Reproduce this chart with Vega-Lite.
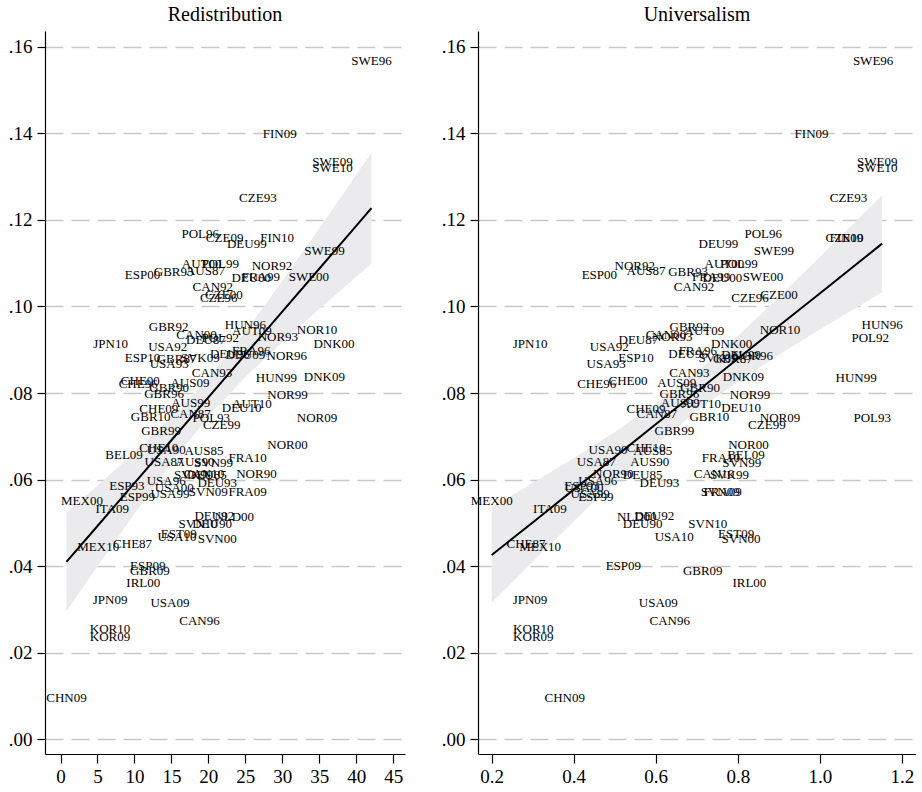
{
 "$schema": "https://vega.github.io/schema/vega-lite/v6.json",
 "padding": {"left": 8, "top": 5, "right": 0, "bottom": 0},
 "background": "white",
 "config": {
  "font": "Liberation Serif",
  "view": {"stroke": null},
  "axis": {"labelFont": "Liberation Serif", "labelFontSize": 19, "labelColor": "#000", "domainColor": "#000", "tickColor": "#000", "domainWidth": 1.2, "tickWidth": 1.2, "title": null, "grid": false, "labelOverlap": false, "labelFlush": false},
  "title": {"font": "Liberation Serif", "fontSize": 20, "fontWeight": "normal", "color": "#000", "offset": 6},
  "concat": {"spacing": 36}
 },
 "datasets": {
  "fitL": [
   {"x": 0.8, "fit": 0.0410, "lo": 0.0296, "hi": 0.0524},
   {"x": 5, "fit": 0.0493, "lo": 0.0400, "hi": 0.0586},
   {"x": 10, "fit": 0.0592, "lo": 0.0521, "hi": 0.0663},
   {"x": 15, "fit": 0.0691, "lo": 0.0639, "hi": 0.0743},
   {"x": 20, "fit": 0.0790, "lo": 0.0745, "hi": 0.0835},
   {"x": 25, "fit": 0.0889, "lo": 0.0837, "hi": 0.0941},
   {"x": 30, "fit": 0.0988, "lo": 0.0917, "hi": 0.1059},
   {"x": 35, "fit": 0.1087, "lo": 0.0994, "hi": 0.1180},
   {"x": 40, "fit": 0.1186, "lo": 0.1068, "hi": 0.1304},
   {"x": 42.06, "fit": 0.1227, "lo": 0.1099, "hi": 0.1355}
  ],
  "fitR": [
   {"x": 0.2, "fit": 0.0426, "lo": 0.0316, "hi": 0.0536},
   {"x": 0.3, "fit": 0.0501, "lo": 0.0410, "hi": 0.0592},
   {"x": 0.4, "fit": 0.0577, "lo": 0.0504, "hi": 0.0650},
   {"x": 0.5, "fit": 0.0652, "lo": 0.0594, "hi": 0.0710},
   {"x": 0.6, "fit": 0.0728, "lo": 0.0681, "hi": 0.0775},
   {"x": 0.7, "fit": 0.0803, "lo": 0.0758, "hi": 0.0848},
   {"x": 0.8, "fit": 0.0879, "lo": 0.0826, "hi": 0.0932},
   {"x": 0.9, "fit": 0.0955, "lo": 0.0888, "hi": 0.1021},
   {"x": 1.0, "fit": 0.1030, "lo": 0.0947, "hi": 0.1114},
   {"x": 1.152, "fit": 0.1145, "lo": 0.1033, "hi": 0.1257}
  ],
  "pts": [
   {"lab": "SWE96", "r": 42.06, "u": 1.13, "y": 0.1567},
   {"lab": "FIN09", "r": 29.65, "u": 0.98, "y": 0.1399},
   {"lab": "SWE09", "r": 36.8, "u": 1.14, "y": 0.1334},
   {"lab": "SWE10", "r": 36.8, "u": 1.14, "y": 0.1319},
   {"lab": "CZE93", "r": 26.7, "u": 1.07, "y": 0.1251},
   {"lab": "POL96", "r": 18.9, "u": 0.862, "y": 0.1168},
   {"lab": "CZE09", "r": 22.2, "u": 1.06, "y": 0.1157},
   {"lab": "DEU99", "r": 25.2, "u": 0.7527, "y": 0.1145},
   {"lab": "FIN10", "r": 29.3, "u": 1.065, "y": 0.1157},
   {"lab": "SWE99", "r": 35.7, "u": 0.888, "y": 0.1127},
   {"lab": "AUT00", "r": 19.1, "u": 0.7673, "y": 0.1097},
   {"lab": "POL99", "r": 21.6, "u": 0.8032, "y": 0.1097},
   {"lab": "NOR92", "r": 28.6, "u": 0.5488, "y": 0.1094},
   {"lab": "ESP00", "r": 11.1, "u": 0.4625, "y": 0.1072},
   {"lab": "GBR93", "r": 15.3, "u": 0.6788, "y": 0.1079},
   {"lab": "AUS87", "r": 19.6, "u": 0.5763, "y": 0.1082},
   {"lab": "DEU00", "r": 25.8, "u": 0.7624, "y": 0.1066},
   {"lab": "FRA99", "r": 27.1, "u": 0.735, "y": 0.1068},
   {"lab": "SWE00", "r": 33.6, "u": 0.8617, "y": 0.1068},
   {"lab": "CAN92", "r": 20.6, "u": 0.6934, "y": 0.1045},
   {"lab": "CZE00", "r": 22.1, "u": 0.9007, "y": 0.1026},
   {"lab": "CZE96", "r": 21.4, "u": 0.830, "y": 0.1020},
   {"lab": "GBR92", "r": 14.62, "u": 0.682, "y": 0.0952},
   {"lab": "HUN96", "r": 25.0, "u": 1.152, "y": 0.0957},
   {"lab": "AUT09", "r": 25.9, "u": 0.7186, "y": 0.0943},
   {"lab": "NOR10", "r": 34.7, "u": 0.903, "y": 0.0945},
   {"lab": "CAN00", "r": 18.4, "u": 0.625, "y": 0.0933},
   {"lab": "POL92", "r": 21.6, "u": 1.123, "y": 0.0928},
   {"lab": "DEU87", "r": 19.67, "u": 0.5576, "y": 0.0923},
   {"lab": "NOR93", "r": 29.4, "u": 0.64, "y": 0.0929},
   {"lab": "DNK00", "r": 37.0, "u": 0.785, "y": 0.0914},
   {"lab": "JPN10", "r": 6.77, "u": 0.2935, "y": 0.0914},
   {"lab": "USA92", "r": 14.49, "u": 0.4869, "y": 0.0906},
   {"lab": "ESP10", "r": 11.1, "u": 0.552, "y": 0.0881},
   {"lab": "GBR87", "r": 15.7, "u": 0.788, "y": 0.0879},
   {"lab": "SVK09", "r": 18.9, "u": 0.752, "y": 0.0882},
   {"lab": "DEU96", "r": 22.9, "u": 0.679, "y": 0.0891},
   {"lab": "FRA96", "r": 25.8, "u": 0.7025, "y": 0.0898},
   {"lab": "DEU09", "r": 25.0, "u": 0.808, "y": 0.0888},
   {"lab": "NOR96", "r": 30.6, "u": 0.8366, "y": 0.0886},
   {"lab": "USA93", "r": 14.7, "u": 0.479, "y": 0.0868},
   {"lab": "CAN93", "r": 20.5, "u": 0.682, "y": 0.0847},
   {"lab": "HUN99", "r": 29.2, "u": 1.0886, "y": 0.0834},
   {"lab": "DNK09", "r": 35.7, "u": 0.8137, "y": 0.0836},
   {"lab": "AUS09", "r": 17.5, "u": 0.651, "y": 0.0824},
   {"lab": "CHE00", "r": 10.8, "u": 0.5324, "y": 0.0827},
   {"lab": "CHE96", "r": 10.5, "u": 0.456, "y": 0.0820},
   {"lab": "GBR90", "r": 14.7, "u": 0.708, "y": 0.0812},
   {"lab": "GBR96", "r": 14.0, "u": 0.6576, "y": 0.0797},
   {"lab": "NOR99", "r": 30.7, "u": 0.830, "y": 0.0795},
   {"lab": "AUS99", "r": 17.6, "u": 0.66, "y": 0.0778},
   {"lab": "AUT10", "r": 25.9, "u": 0.7105, "y": 0.0775},
   {"lab": "CHE09", "r": 13.3, "u": 0.5763, "y": 0.0763},
   {"lab": "DEU10", "r": 24.5, "u": 0.808, "y": 0.0766},
   {"lab": "CAN87", "r": 17.6, "u": 0.6024, "y": 0.0751},
   {"lab": "GBR10", "r": 12.2, "u": 0.7307, "y": 0.0744},
   {"lab": "POL93", "r": 20.4, "u": 1.128, "y": 0.0743},
   {"lab": "NOR09", "r": 34.7, "u": 0.903, "y": 0.0742},
   {"lab": "CZE99", "r": 21.8, "u": 0.871, "y": 0.0726},
   {"lab": "GBR99", "r": 13.6, "u": 0.6454, "y": 0.0712},
   {"lab": "NOR00", "r": 30.7, "u": 0.826, "y": 0.0680},
   {"lab": "CHE10", "r": 13.3, "u": 0.5763, "y": 0.0674},
   {"lab": "USA90", "r": 14.3, "u": 0.4837, "y": 0.0668},
   {"lab": "AUS85", "r": 19.4, "u": 0.5927, "y": 0.0666},
   {"lab": "BEL09", "r": 8.6, "u": 0.820, "y": 0.0657},
   {"lab": "FRA10", "r": 25.3, "u": 0.759, "y": 0.0651},
   {"lab": "USA87", "r": 14.0, "u": 0.4552, "y": 0.0641},
   {"lab": "AUS90", "r": 18.2, "u": 0.5853, "y": 0.0640},
   {"lab": "SVN99", "r": 20.7, "u": 0.810, "y": 0.0639},
   {"lab": "NOR90", "r": 26.5, "u": 0.4966, "y": 0.0614},
   {"lab": "SVK99", "r": 18.0, "u": 0.7796, "y": 0.0610},
   {"lab": "CAN10", "r": 19.4, "u": 0.742, "y": 0.0612},
   {"lab": "DEU85", "r": 19.8, "u": 0.568, "y": 0.0610},
   {"lab": "DEU93", "r": 21.2, "u": 0.609, "y": 0.0592},
   {"lab": "USA96", "r": 14.3, "u": 0.4585, "y": 0.0597},
   {"lab": "ESP93", "r": 8.98, "u": 0.42, "y": 0.0585},
   {"lab": "USA00", "r": 15.4, "u": 0.425, "y": 0.0580},
   {"lab": "SVN09", "r": 20.0, "u": 0.757, "y": 0.0572},
   {"lab": "FRA09", "r": 25.3, "u": 0.763, "y": 0.0572},
   {"lab": "ESP99", "r": 10.4, "u": 0.454, "y": 0.0561},
   {"lab": "USA99", "r": 14.8, "u": 0.44, "y": 0.0566},
   {"lab": "MEX00", "r": 2.9, "u": 0.2, "y": 0.0551},
   {"lab": "ITA09", "r": 7.0, "u": 0.342, "y": 0.0532},
   {"lab": "DEU92", "r": 20.8, "u": 0.5966, "y": 0.0517},
   {"lab": "NLD00", "r": 23.5, "u": 0.5537, "y": 0.0514},
   {"lab": "SVN10", "r": 18.6, "u": 0.727, "y": 0.0498},
   {"lab": "DEU90", "r": 20.5, "u": 0.568, "y": 0.0497},
   {"lab": "EST09", "r": 16.0, "u": 0.796, "y": 0.0474},
   {"lab": "USA10", "r": 15.75, "u": 0.645, "y": 0.0468},
   {"lab": "SVN00", "r": 21.2, "u": 0.808, "y": 0.0463},
   {"lab": "CHE87", "r": 9.75, "u": 0.2837, "y": 0.0451},
   {"lab": "MEX10", "r": 5.1, "u": 0.318, "y": 0.0444},
   {"lab": "ESP09", "r": 11.8, "u": 0.521, "y": 0.0401},
   {"lab": "GBR09", "r": 12.1, "u": 0.7146, "y": 0.0388},
   {"lab": "IRL00", "r": 11.2, "u": 0.8283, "y": 0.0362},
   {"lab": "JPN09", "r": 6.7, "u": 0.2934, "y": 0.0321},
   {"lab": "USA09", "r": 14.8, "u": 0.6063, "y": 0.0316},
   {"lab": "CAN96", "r": 18.8, "u": 0.634, "y": 0.0273},
   {"lab": "KOR10", "r": 6.7, "u": 0.3015, "y": 0.0254},
   {"lab": "KOR09", "r": 6.7, "u": 0.3015, "y": 0.0237},
   {"lab": "CHN09", "r": 0.8, "u": 0.378, "y": 0.0096}
  ]
 },
 "hconcat": [
  {
   "width": 360, "height": 723,
   "title": "Redistribution",
   "encoding": {
    "x": {"type": "quantitative", "scale": {"domain": [-2.1, 46.6], "nice": false, "zero": false},
          "axis": {"values": [0, 5, 10, 15, 20, 25, 30, 35, 40, 45], "tickCount": 10, "format": "d", "tickSize": 9, "labelPadding": 4}},
    "y": {"type": "quantitative", "scale": {"domain": [-0.00335, 0.1636], "nice": false, "zero": false},
          "axis": {"values": [0, 0.02, 0.04, 0.06, 0.08, 0.1, 0.12, 0.14, 0.16], "labelExpr": "replace(format(datum.value, '.2f'), '0.', '.')", "grid": true, "gridColor": "#c8c8c8", "gridDash": [18, 8], "gridWidth": 1.6, "tickSize": 8, "labelPadding": 5}}
   },
   "layer": [
    {"data": {"name": "fitL"}, "mark": {"type": "area", "color": "#ebebed", "opacity": 1},
     "encoding": {"x": {"field": "x"}, "y": {"field": "lo"}, "y2": {"field": "hi"}}},
    {"data": {"name": "fitL"}, "mark": {"type": "line", "color": "#000", "strokeWidth": 2},
     "encoding": {"x": {"field": "x"}, "y": {"field": "fit"}}},
    {"data": {"name": "pts"}, "mark": {"type": "text", "font": "Liberation Serif", "fontSize": 13, "color": "#000", "align": "center", "baseline": "middle"},
     "encoding": {"x": {"field": "r"}, "y": {"field": "y"}, "text": {"field": "lab"}}}
   ]
  },
  {
   "width": 438, "height": 723,
   "title": "Universalism",
   "encoding": {
    "x": {"type": "quantitative", "scale": {"domain": [0.1666, 1.2346], "nice": false, "zero": false},
          "axis": {"values": [0.2, 0.4, 0.6, 0.8, 1.0, 1.2], "format": ".1f", "tickSize": 9, "labelPadding": 4}},
    "y": {"type": "quantitative", "scale": {"domain": [-0.00335, 0.1636], "nice": false, "zero": false},
          "axis": {"values": [0, 0.02, 0.04, 0.06, 0.08, 0.1, 0.12, 0.14, 0.16], "labelExpr": "replace(format(datum.value, '.2f'), '0.', '.')", "grid": true, "gridColor": "#c8c8c8", "gridDash": [18, 8], "gridWidth": 1.6, "tickSize": 8, "labelPadding": 5}}
   },
   "layer": [
    {"data": {"name": "fitR"}, "mark": {"type": "area", "color": "#ebebed", "opacity": 1},
     "encoding": {"x": {"field": "x"}, "y": {"field": "lo"}, "y2": {"field": "hi"}}},
    {"data": {"name": "fitR"}, "mark": {"type": "line", "color": "#000", "strokeWidth": 2},
     "encoding": {"x": {"field": "x"}, "y": {"field": "fit"}}},
    {"data": {"name": "pts"}, "mark": {"type": "text", "font": "Liberation Serif", "fontSize": 13, "color": "#000", "align": "center", "baseline": "middle"},
     "encoding": {"x": {"field": "u"}, "y": {"field": "y"}, "text": {"field": "lab"}}}
   ]
  }
 ]
}
